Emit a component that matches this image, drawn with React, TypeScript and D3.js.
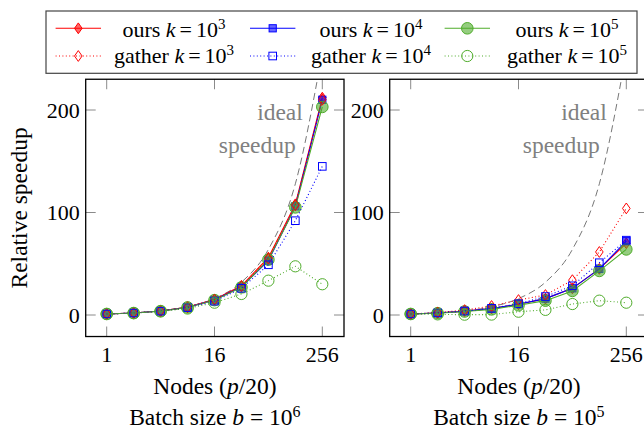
import React from "react";
import * as d3 from "d3";

const nodes = [1, 2, 4, 8, 16, 32, 64, 128, 256];
const xTicks = [1, 16, 256];
const yTicks = [0, 100, 200];
const kExps = ["3", "4", "5"];

// Batch size b = 10^6
const b6Ours3 = [1, 2.0, 3.9, 7.7, 15.2, 28.5, 56, 108, 212];
const b6Ours4 = [1, 2.0, 3.9, 7.6, 14.8, 27.5, 53, 106, 210];
const b6Ours5 = [1, 1.9, 3.8, 7.4, 14.5, 27, 54, 105, 203];
const b6Gather3 = [1, 2.0, 3.9, 7.6, 15, 28, 55, 107, 210];
const b6Gather4 = [1, 1.9, 3.7, 7.2, 13.5, 26, 49, 92, 145];
const b6Gather5 = [1, 1.8, 3.5, 6.3, 12, 20.5, 33.5, 47.5, 30];

// Batch size b = 10^5
const b5Ours3 = [1, 1.9, 3.8, 6.3, 10.5, 16, 26, 45, 70];
const b5Ours4 = [1, 1.9, 3.7, 6.2, 10.5, 16, 26, 45, 72];
const b5Ours5 = [1, 1.8, 3.4, 5.5, 9.5, 14, 23.5, 43, 64];
const b5Gather3 = [1, 2.4, 4.8, 8.8, 14.6, 19.5, 34, 61.5, 104];
const b5Gather4 = [1, 2.0, 3.9, 6.5, 11, 18, 28.5, 51, 73];
const b5Gather5 = [1, 0.6, 0.3, 0.4, 3.2, 5, 10.7, 14, 12];

// ideal speedup equals the node count
const idealSpeedup = nodes.slice();

const RED = "#ff0000";
const BLUE = "#0000ff";
const GREEN = "#4fac2b";
const FONT = "Liberation Serif";
const T: React.CSSProperties = { fontFamily: "'Liberation Serif', serif", fontSize: "22px" };
const L: React.CSSProperties = { fontFamily: "'Liberation Serif', serif", fontSize: "23.5px" };

type Style = { color: string; shape: "diamond" | "square" | "circle"; filled: boolean };
const styles: Style[] = [
  { color: RED, shape: "diamond", filled: true },
  { color: BLUE, shape: "square", filled: true },
  { color: GREEN, shape: "circle", filled: true },
  { color: RED, shape: "diamond", filled: false },
  { color: BLUE, shape: "square", filled: false },
  { color: GREEN, shape: "circle", filled: false },
];

function Marker({ s, cx, cy }: { s: Style; cx: number; cy: number }) {
  const fill = s.filled ? s.color : "white";
  const fo = s.filled ? 0.6 : 0;
  const common = { fill, fillOpacity: fo, stroke: s.color, strokeWidth: 1 };
  if (s.shape === "diamond") {
    const w = 3.8, h = 5.4;
    return <path d={`M${cx},${cy - h}L${cx + w},${cy}L${cx},${cy + h}L${cx - w},${cy}Z`} {...common} />;
  }
  if (s.shape === "square") {
    const a = s.filled ? 3.6 : 3.8;
    return <rect x={cx - a} y={cy - a} width={2 * a} height={2 * a} {...common} />;
  }
  return <circle cx={cx} cy={cy} r={s.filled ? 5.8 : 5.6} {...common} />;
}

function Panel({ ox, series, exp, showYLabel, id }: { ox: number; series: number[][]; exp: string; showYLabel: boolean; id: string }) {
  const x = d3.scaleLog().base(2).domain([1, 256]).range([106.7 + ox, 322.3 + ox]);
  const y = d3.scaleLinear().domain([0, 200]).range([315, 110]);
  const x0 = x(1) - 21, x1 = x(256) + 21.7;
  const y0 = y(230), y1 = y(-21);
  const line = d3.line<[number, number]>().x((d) => x(d[0])).y((d) => y(d[1]));
  const idealLine = d3
    .line<[number, number]>()
    .x((d) => x(d[0]))
    .y((d) => y(d[1]))
    .curve(d3.curveMonotoneX);
  const cx = (x0 + x1) / 2;
  return (
    <g>
      <defs>
        <clipPath id={id}>
          <rect x={x0} y={y0} width={x1 - x0} height={y1 - y0} />
        </clipPath>
      </defs>
      <g clipPath={`url(#${id})`}>
        <path
          d={idealLine(nodes.map((n, i) => [n, idealSpeedup[i]] as [number, number])) || ""}
          fill="none"
          stroke="#777"
          strokeWidth={1}
          strokeDasharray="7,4"
        />
        {series.map((vals, si) => {
          const s = styles[si];
          const pts = nodes.map((n, i) => [n, vals[i]] as [number, number]);
          return (
            <g key={si}>
              <path
                d={line(pts) || ""}
                fill="none"
                stroke={s.color}
                strokeWidth={1.1}
                strokeDasharray={s.filled ? undefined : "1,2.4"}
              />
              {pts.map((p, i) => (
                <Marker key={i} s={s} cx={x(p[0])} cy={y(p[1])} />
              ))}
            </g>
          );
        })}
      </g>
      <text x={x(256) - 19.5} y={120} textAnchor="end" fill="#808080" style={L}>
        ideal
      </text>
      <text x={x(256) - 26.5} y={153} textAnchor="end" fill="#808080" style={L}>
        speedup
      </text>
      {yTicks.map((t) => (
        <g key={"y" + t}>
          <line x1={x0} x2={x0 + 10} y1={y(t)} y2={y(t)} stroke="#8a8a8a" strokeWidth={1} />
          <line x1={x1 - 10} x2={x1} y1={y(t)} y2={y(t)} stroke="#8a8a8a" strokeWidth={1} />
          <text x={x0 - 6} y={y(t) + 7.5} textAnchor="end" style={T} fill="#000">
            {t}
          </text>
        </g>
      ))}
      {xTicks.map((t) => (
        <g key={"x" + t}>
          <line x1={x(t)} x2={x(t)} y1={y1} y2={y1 - 10} stroke="#8a8a8a" strokeWidth={1} />
          <line x1={x(t)} x2={x(t)} y1={y0} y2={y0 + 10} stroke="#8a8a8a" strokeWidth={1} />
          <text x={x(t)} y={362} textAnchor="middle" style={T} fill="#000">
            {t}
          </text>
        </g>
      ))}
      <rect x={x0} y={y0} width={x1 - x0} height={y1 - y0} fill="none" stroke="#000" strokeWidth={1.3} />
      <text x={cx} y={394} textAnchor="middle" style={L} fill="#000">
        Nodes (<tspan fontStyle="italic">p</tspan>/20)
      </text>
      <text x={cx} y={425} textAnchor="middle" style={L} fill="#000">
        Batch size <tspan fontStyle="italic">b</tspan> = 10
        <tspan style={{ fontSize: "16px" }} dy={-8.5}>{exp}</tspan>
      </text>
      {showYLabel && (
        <text
          transform={`translate(27,${(y0 + y1) / 2}) rotate(-90)`}
          textAnchor="middle"
          style={L}
          fill="#000"
        >
          Relative speedup
        </text>
      )}
    </g>
  );
}

function Legend() {
  const markerX = [78.3, 272.7, 467.3];
  const textX = [174, 371, 567];
  const rowY = [28.3, 56];
  const baseY = [36.7, 63.3];
  const names = ["ours", "gather"];
  return (
    <g>
      <rect x={46} y={11} width={591} height={62.3} fill="white" stroke="#444" strokeWidth={1.2} />
      {names.map((nm, r) =>
        kExps.map((e, c) => {
          const s = styles[r * 3 + c];
          const mx = markerX[c];
          return (
            <g key={nm + e}>
              <line
                x1={mx - 22.7}
                x2={mx + 22.7}
                y1={rowY[r]}
                y2={rowY[r]}
                stroke={s.color}
                strokeWidth={1.1}
                strokeDasharray={s.filled ? undefined : "1,2.4"}
              />
              <Marker s={s} cx={mx} cy={rowY[r]} />
              <text x={textX[c]} y={baseY[r]} textAnchor="middle" style={T} fill="#000">
                {nm} <tspan fontStyle="italic">k</tspan>
                <tspan dx={4}>=</tspan>
                <tspan dx={4}>10</tspan>
                <tspan style={{ fontSize: "15px" }} dy={-8}>{e}</tspan>
              </text>
            </g>
          );
        })
      )}
    </g>
  );
}

export default function App() {
  return (
    <svg
      width={644}
      height={431}
      viewBox="0 0 644 431"
      style={{ position: "absolute", left: 0, top: 0, background: "white", fontFamily: FONT }}
    >
      <rect x={0} y={0} width={644} height={431} fill="white" />
      <Panel
        ox={0}
        id="clipA"
        series={[b6Ours3, b6Ours4, b6Ours5, b6Gather3, b6Gather4, b6Gather5]}
        exp="6"
        showYLabel={true}
      />
      <Panel
        ox={304}
        id="clipB"
        series={[b5Ours3, b5Ours4, b5Ours5, b5Gather3, b5Gather4, b5Gather5]}
        exp="5"
        showYLabel={false}
      />
      <Legend />
    </svg>
  );
}
